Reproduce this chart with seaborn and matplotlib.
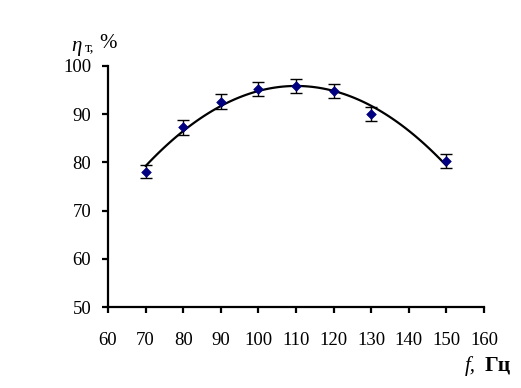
import matplotlib
matplotlib.use("Agg")
import matplotlib.pyplot as plt
import seaborn as sns
import numpy as np
import pandas as pd

# values
freq = [70, 80, 90, 100, 110, 120, 130, 150]
eff = [78.1, 87.3, 92.6, 95.2, 95.8, 94.8, 90.0, 80.2]
eff_err = [1.4, 1.6, 1.5, 1.5, 1.5, 1.5, 1.5, 1.45]
x_ticks = [60, 70, 80, 90, 100, 110, 120, 130, 140, 150, 160]
y_ticks = [50, 60, 70, 80, 90, 100]

sns.set_theme(style="white")
plt.rcParams["font.family"] = ["Liberation Serif", "DejaVu Serif"]
plt.rcParams["text.color"] = "black"

df = pd.DataFrame({"f": freq, "eta": eff, "err": eff_err})

fig = plt.figure(figsize=(5.21, 3.88), dpi=100)
ax = fig.add_axes([108 / 521, 1 - 307 / 388, 376 / 521, 241 / 388])

# Excel-like polynomial trend line
sns.regplot(data=df, x="f", y="eta", order=2, ci=None, scatter=False,
            line_kws={"color": "black", "lw": 1.6}, ax=ax)

ax.errorbar(df["f"], df["eta"], yerr=df["err"], fmt="none", ecolor="black",
            elinewidth=1.0, capsize=4, capthick=1.0, zorder=3)
sns.scatterplot(data=df, x="f", y="eta", marker="D", s=24, color="#000080",
                edgecolor="#000080", linewidth=0.5, zorder=4, ax=ax, legend=False)

ax.set_xlim(60, 160)
ax.set_ylim(50, 100)
ax.set_xticks(x_ticks)
ax.set_yticks(y_ticks)
ax.set_xlabel("")
ax.set_ylabel("")

for s in ["top", "right"]:
    ax.spines[s].set_visible(False)
for s in ["left", "bottom"]:
    ax.spines[s].set_color("black")
    ax.spines[s].set_linewidth(1.6)

ax.tick_params(axis="both", direction="out", length=4, width=1.6, color="black",
               labelsize=13.5, labelcolor="black")
ax.tick_params(axis="x", pad=14, bottom=True)
ax.tick_params(axis="y", pad=8, left=True)

# axis captions
fig.text(71 / 521, 1 - 46 / 388, "η", style="italic", fontsize=15, va="center")
fig.text(85 / 521, 1 - 48 / 388, "т,", fontsize=11, va="center")
fig.text(99 / 521, 1 - 44 / 388, "%", fontsize=15, va="center")
fig.text(465 / 521, 1 - 366 / 388, "f,", style="italic", fontsize=15, va="center")
fig.text(485 / 521, 1 - 365 / 388, "Гц", fontweight="bold", fontsize=15.5, va="center")

fig.savefig("out.png", dpi=100)
